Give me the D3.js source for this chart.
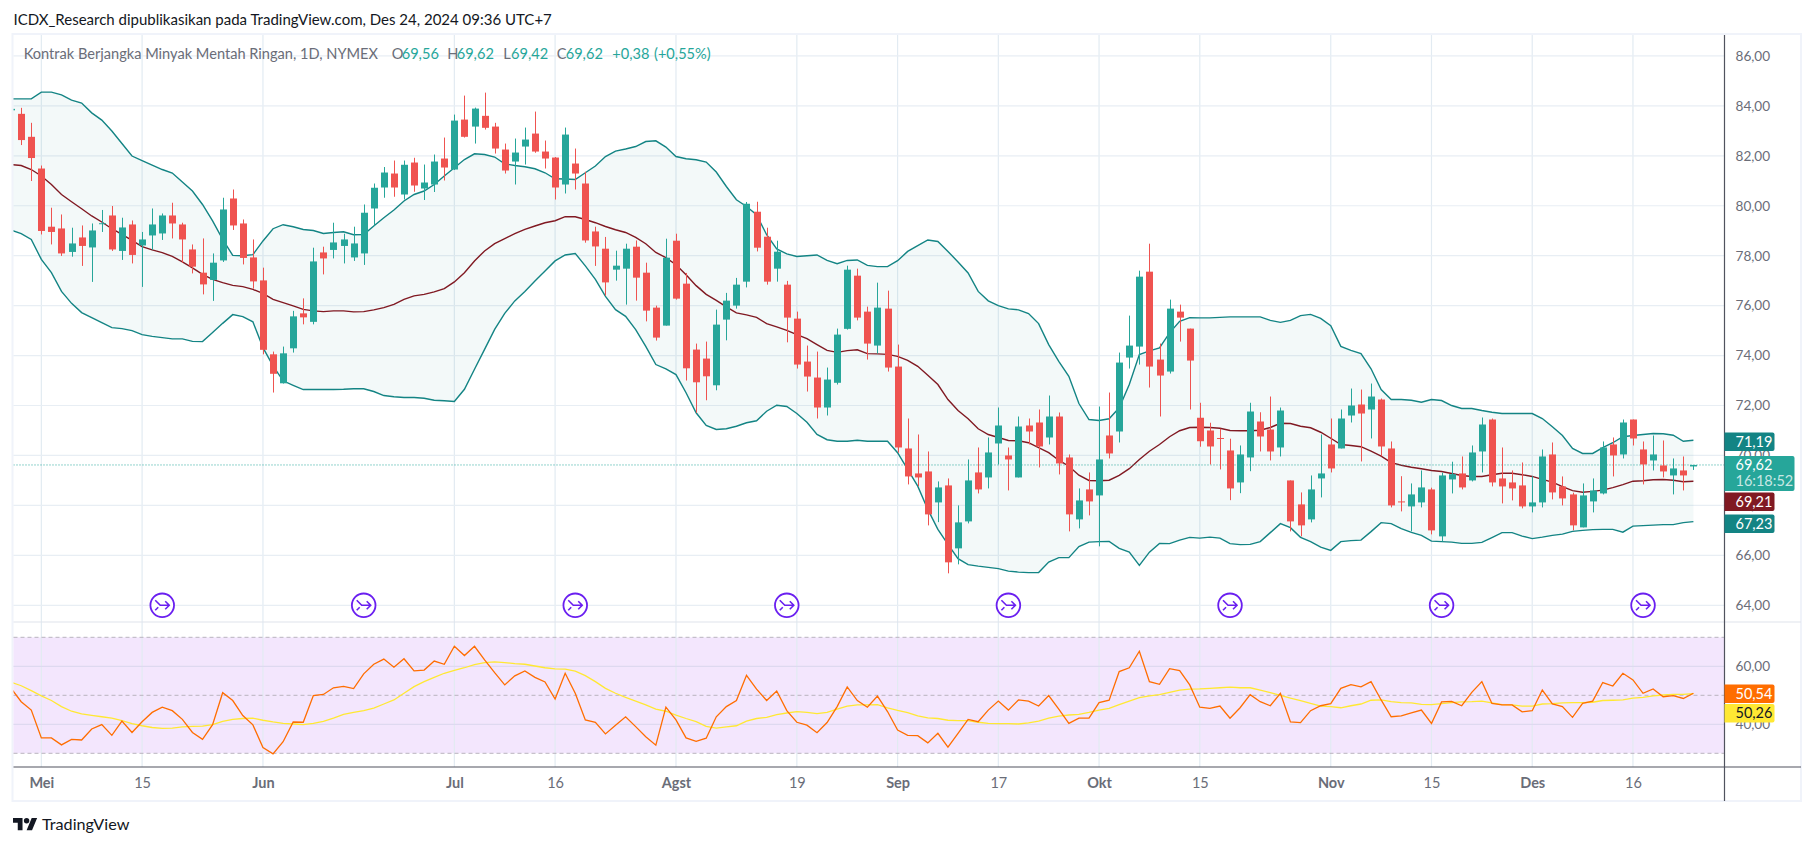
<!DOCTYPE html>
<html>
<head>
<meta charset="utf-8">
<script src="https://cdn.jsdelivr.net/npm/d3@7"></script>
<style>
  html, body { margin: 0; padding: 0; background: #fff; }
  svg { display: block; }
  text { font-family: "Lato", "Noto Sans", sans-serif; }
</style>
</head>
<body>
<svg id="chart" width="1814" height="846"></svg>
<script>
// daily candles, first entry is 26 Apr (only a sliver of it shows at the left edge)
const opens = [83.82,
  83.68,82.76,81.49,79.16,79.09,78.15,78.73,78.33,79.27,79.61,
  78.19,79.25,78.41,78.81,78.89,79.61,79.25,78.25,77.32,77.03,
  77.81,80.29,79.29,77.93,77.01,74.05,72.89,74.29,75.69,75.35,
  78.13,78.23,78.39,77.93,78.09,79.89,80.73,81.29,80.45,81.73,
  80.69,80.85,81.89,81.45,83.45,83.17,83.6,83.17,82.25,81.77,
  82.37,82.89,82.17,81.93,80.85,81.69,80.89,78.97,78.28,77.44,
  77.48,78.36,77.32,75.92,75.2,78.6,76.88,74.24,73.88,72.81,
  75.44,76.0,76.96,79.76,78.76,77.48,76.84,75.48,73.76,73.12,
  71.92,72.91,75.07,77.2,75.76,74.4,75.88,73.56,70.28,69.28,
  69.36,68.12,68.8,66.28,67.36,69.32,69.12,70.48,70.0,69.12,
  71.2,71.32,70.72,71.56,69.92,67.44,68.64,68.4,70.8,70.96,
  73.92,74.36,77.36,73.84,73.36,75.76,75.08,71.51,71.0,70.7,
  70.2,68.92,69.92,71.36,71.04,70.32,69.0,68.04,67.44,69.08,
  70.44,70.28,71.6,72.04,71.84,72.24,70.28,68.16,67.96,68.12,
  68.64,66.76,69.04,69.28,69.0,70.16,71.44,69.08,68.92,68.8,
  67.96,68.12,70.04,68.76,68.44,67.12,68.16,68.48,70.44,70.04,
  71.44,70.24,69.8,69.6,69.2,69.4,69.56];
const highs = [83.9,
  83.92,83.32,81.61,79.92,79.65,79.12,79.21,79.29,79.83,79.99,
  79.52,79.41,78.95,79.89,79.69,80.12,79.32,78.45,78.69,78.09,
  80.32,80.65,79.45,78.65,77.52,74.16,74.36,75.79,76.29,78.32,
  78.36,79.32,78.88,79.16,80.05,80.89,81.55,81.81,81.81,81.92,
  81.65,82.05,82.73,83.65,84.41,83.93,84.53,83.32,82.49,82.69,
  83.13,83.77,82.61,81.95,83.13,82.29,81.36,79.16,78.75,78.2,
  78.48,78.61,77.72,76.0,78.68,78.88,77.31,74.48,74.56,75.84,
  76.51,77.11,80.15,80.16,79.12,78.6,76.99,75.76,74.4,74.16,
  73.52,75.08,77.6,77.48,75.96,76.92,76.6,74.44,71.48,70.84,
  70.16,68.96,69.08,68.0,69.84,70.32,70.72,71.92,70.32,71.56,
  71.48,71.84,72.4,71.72,70.04,68.68,69.32,71.96,72.52,74.12,
  75.6,77.4,78.48,74.48,76.24,76.04,75.08,72.11,71.31,71.07,
  70.67,70.4,72.11,71.73,72.36,71.92,69.0,68.52,69.2,70.84,
  71.48,71.84,72.68,72.64,72.88,72.28,70.56,69.17,68.88,69.4,
  68.71,69.31,69.75,69.96,70.4,71.52,71.48,70.32,69.4,69.72,
  69.17,70.24,70.52,69.16,68.51,68.88,69.08,70.56,70.72,71.44,
  71.44,70.56,70.8,70.6,69.88,69.96,69.62];
const lows = [83.8,
  82.43,80.99,78.85,78.45,77.99,77.96,77.59,76.95,78.95,78.19,
  77.83,77.69,76.75,78.23,78.63,78.69,77.72,77.29,76.45,76.19,
  77.75,79.03,77.65,76.68,74.05,72.52,72.88,74.12,75.25,75.25,
  77.25,77.89,77.69,77.79,77.63,79.21,80.32,80.36,80.25,80.56,
  80.23,80.55,81.01,81.43,82.73,82.49,83.05,82.09,81.29,80.85,
  81.65,82.12,81.49,80.25,80.49,80.65,78.52,77.59,76.4,77.0,
  76.04,76.2,75.37,74.6,75.2,76.24,73.0,71.71,72.21,72.61,
  74.61,75.88,76.73,78.17,76.84,76.96,74.53,73.48,72.56,71.48,
  71.6,72.84,75.04,75.41,73.84,74.08,73.36,70.11,68.84,68.77,
  67.2,67.33,65.28,65.64,67.28,68.48,68.68,69.64,68.6,69.12,
  70.44,69.52,70.44,69.24,66.96,67.08,67.6,66.36,69.88,70.52,
  73.48,73.64,72.72,71.56,73.28,74.56,71.84,70.35,69.64,69.44,
  68.21,68.49,69.37,70.16,69.8,69.96,66.96,66.76,67.32,68.32,
  69.32,70.28,71.32,69.76,70.68,69.97,67.92,67.76,66.96,67.92,
  66.84,66.56,68.48,68.64,68.96,69.32,68.76,68.08,68.2,67.88,
  67.72,67.92,68.24,68.0,67.0,67.12,67.72,68.44,69.16,69.88,
  70.4,68.84,69.4,69.12,68.44,68.6,69.42];
const closes = [83.88,
  82.63,81.91,78.99,78.95,78.09,78.49,78.39,79.01,79.3,78.25,
  79.13,78.03,78.65,79.25,79.61,79.29,78.65,77.56,76.85,77.72,
  79.85,79.21,77.91,76.97,74.23,73.27,74.09,75.57,75.53,77.77,
  77.89,78.53,78.65,78.49,79.72,80.72,81.33,80.73,81.64,80.81,
  80.93,81.77,81.53,83.41,82.76,83.89,83.12,82.29,81.41,82.13,
  82.65,82.17,81.89,80.73,82.85,81.29,78.61,78.37,76.93,77.6,
  78.28,77.12,75.8,74.72,77.92,76.28,73.49,72.93,73.17,75.24,
  76.2,76.84,80.08,78.32,76.96,78.16,75.52,73.64,73.16,71.92,
  73.04,74.84,77.44,75.52,74.48,75.92,73.52,70.32,69.16,69.12,
  67.64,68.72,65.72,67.32,69.0,68.64,70.12,71.2,69.84,71.16,
  70.96,70.36,71.56,69.68,67.64,68.2,68.16,69.84,70.08,73.72,
  74.4,77.16,73.56,73.2,75.88,75.52,73.8,70.57,70.36,70.67,
  68.68,70.04,71.76,70.76,70.16,71.8,67.36,67.2,68.64,69.28,
  69.48,71.48,72.0,71.68,72.36,70.36,68.0,68.13,68.44,68.72,
  67.0,69.2,69.25,68.72,70.12,71.24,68.92,68.76,68.68,67.96,
  68.12,69.96,68.52,68.28,67.2,68.4,68.6,70.32,70.0,71.32,
  70.68,69.64,70.04,69.36,69.48,69.2,69.62];

// bollinger bands
const bbUpper = [84.28,
  84.28,84.28,84.55,84.55,84.44,84.23,84.11,83.72,83.43,82.99,
  82.49,81.99,81.81,81.63,81.45,81.31,80.95,80.59,80.05,79.39,
  78.65,78.01,78.0,78.04,78.59,79.08,79.24,79.16,79.05,79.01,
  78.89,78.93,78.96,78.84,78.85,79.19,79.52,79.83,80.19,80.45,
  80.59,80.85,81.19,81.52,81.85,82.08,82.05,81.95,81.68,81.61,
  81.56,81.48,81.32,81.08,81.07,81.05,81.32,81.59,81.97,82.19,
  82.27,82.37,82.57,82.6,82.35,81.97,81.88,81.84,81.75,81.35,
  80.77,80.24,79.97,79.64,78.84,78.27,78.07,77.97,78.0,78.03,
  77.81,77.68,77.81,77.83,77.61,77.56,77.56,77.8,78.17,78.4,
  78.63,78.57,78.17,77.75,77.31,76.57,76.19,76.0,75.87,75.83,
  75.68,75.28,74.44,73.77,73.17,72.08,71.44,71.4,71.47,71.91,
  72.84,74.04,74.19,74.31,74.91,75.37,75.52,75.51,75.51,75.53,
  75.55,75.55,75.55,75.55,75.41,75.33,75.41,75.6,75.65,75.49,
  75.2,74.37,74.21,74.08,73.47,72.64,72.24,72.24,72.21,72.13,
  72.24,72.2,72.0,71.88,71.88,71.8,71.73,71.68,71.68,71.68,
  71.68,71.48,71.15,70.8,70.28,70.08,70.08,70.31,70.51,70.75,
  70.8,70.84,70.88,70.87,70.81,70.57,70.61];
const bbBasis = [81.65,
  81.61,81.45,81.19,80.85,80.45,80.16,79.88,79.59,79.35,79.08,
  78.85,78.61,78.36,78.23,78.12,77.97,77.75,77.51,77.25,77.05,
  76.92,76.81,76.76,76.65,76.49,76.25,76.12,75.99,75.85,75.79,
  75.76,75.79,75.79,75.75,75.76,75.83,75.92,76.05,76.25,76.39,
  76.45,76.55,76.68,76.95,77.32,77.79,78.19,78.48,78.68,78.88,
  79.05,79.19,79.32,79.4,79.56,79.56,79.45,79.32,79.17,79.04,
  78.93,78.73,78.48,78.13,77.92,77.64,77.24,76.8,76.45,76.21,
  75.95,75.71,75.63,75.53,75.28,75.15,75.01,74.84,74.68,74.44,
  74.21,74.13,74.2,74.23,74.08,74.07,74.05,73.97,73.81,73.57,
  73.21,72.84,72.24,71.8,71.47,71.07,70.84,70.72,70.6,70.59,
  70.51,70.31,70.11,69.81,69.57,69.21,69.0,68.99,69.01,69.2,
  69.47,69.84,70.17,70.44,70.75,70.99,71.12,71.13,71.12,71.09,
  71.0,70.99,70.99,71.01,71.12,71.29,71.28,71.17,71.11,70.93,
  70.69,70.44,70.4,70.35,70.17,69.97,69.71,69.61,69.53,69.47,
  69.4,69.36,69.28,69.2,69.16,69.16,69.23,69.29,69.29,69.23,
  69.16,69.04,68.93,68.75,68.59,68.53,68.56,68.61,68.71,68.83,
  68.97,68.99,69.03,69.04,69.01,68.95,68.97];
const bbLower = [79.03,
  78.88,78.65,77.85,77.32,76.57,76.09,75.72,75.52,75.32,75.12,
  75.08,75.0,74.84,74.77,74.72,74.67,74.67,74.57,74.56,74.92,
  75.29,75.64,75.56,75.35,74.32,73.59,72.99,72.81,72.64,72.64,
  72.64,72.64,72.65,72.67,72.67,72.56,72.4,72.35,72.32,72.32,
  72.29,72.21,72.19,72.16,72.65,73.45,74.25,75.05,75.69,76.19,
  76.57,76.99,77.39,77.79,78.03,78.09,77.59,77.05,76.37,75.84,
  75.57,75.04,74.37,73.64,73.47,73.24,72.51,71.71,71.2,71.04,
  71.07,71.17,71.31,71.39,71.77,72.01,71.96,71.68,71.33,70.84,
  70.63,70.57,70.57,70.61,70.57,70.57,70.57,70.11,69.44,68.77,
  67.84,67.04,66.44,65.87,65.63,65.57,65.52,65.47,65.37,65.33,
  65.31,65.31,65.73,65.91,65.91,66.35,66.53,66.55,66.56,66.28,
  66.13,65.6,66.13,66.48,66.47,66.61,66.72,66.69,66.73,66.69,
  66.47,66.43,66.44,66.55,66.91,67.27,67.11,66.72,66.55,66.33,
  66.2,66.55,66.59,66.61,66.95,67.31,67.27,67.07,66.92,66.8,
  66.57,66.55,66.53,66.48,66.48,66.52,66.71,66.91,66.91,66.77,
  66.67,66.73,66.8,66.85,66.96,67.0,67.03,67.04,67.04,66.93,
  67.17,67.19,67.21,67.23,67.23,67.31,67.35];

// RSI and its moving average
const rsiValues = [52.4,
  47.8,44.9,35.3,35.3,32.9,34.8,34.6,38.4,39.9,36.2,
  41.1,37.2,40.9,44.1,45.9,44.7,41.7,37.2,34.8,39.9,
  50.9,48.2,43.0,39.8,32.0,29.8,34.0,40.8,40.7,49.9,
  50.3,52.6,53.1,52.3,57.4,60.7,62.5,59.7,62.6,58.4,
  58.7,61.8,60.7,66.9,63.7,66.9,62.2,57.8,53.6,56.7,
  58.4,56.2,54.6,48.7,57.6,50.7,41.5,40.7,36.7,39.7,
  42.6,39.2,35.7,32.8,45.9,41.5,35.3,34.1,35.2,42.6,
  46.1,48.2,56.9,52.1,48.2,51.5,44.7,40.7,39.7,37.1,
  40.6,46.1,52.9,48.2,45.9,49.7,44.4,38.0,36.2,36.1,
  33.6,36.9,32.1,36.9,41.7,40.9,44.9,48.0,44.9,48.4,
  48.0,46.3,49.9,45.2,40.3,42.1,42.1,47.5,48.3,58.2,
  59.5,65.2,54.7,53.8,59.2,58.5,53.6,45.9,45.5,46.3,
  42.1,45.7,50.2,47.8,46.4,50.7,40.8,40.6,44.7,46.4,
  47.1,52.4,53.7,52.9,54.7,48.4,42.6,42.9,43.9,44.9,
  40.3,47.7,47.9,46.4,51.0,54.7,47.2,46.7,46.7,44.3,
  44.7,51.8,47.0,46.1,42.4,47.2,48.0,54.4,53.2,57.6,
  55.3,50.7,52.2,49.5,49.9,48.9,50.7];
const rsiMa = [54.5,
  53.3,51.6,49.8,48.2,46.1,44.5,43.6,43.1,42.6,42.1,
  41.3,40.2,39.5,38.9,38.6,38.7,39.1,39.3,39.4,39.9,
  41.0,41.7,42.0,42.1,41.4,40.8,40.3,40.1,39.9,40.3,
  41.0,42.1,43.4,44.1,44.7,45.6,47.0,48.4,50.7,53.0,
  54.7,56.2,57.6,58.6,59.5,60.6,61.3,61.5,61.3,60.9,
  60.7,60.1,59.5,59.1,59.0,58.3,56.8,54.7,52.4,50.7,
  49.3,48.0,46.7,45.2,44.5,43.2,42.0,40.9,39.3,38.7,
  39.1,39.5,41.1,42.0,42.4,43.3,43.9,44.4,44.1,43.7,
  44.1,45.2,46.3,46.7,46.7,46.8,45.7,44.8,44.0,42.9,
  42.2,42.0,41.4,41.3,41.3,40.7,40.3,40.2,40.2,40.1,
  40.5,41.1,42.1,42.8,43.2,43.4,44.1,44.9,45.5,46.8,
  48.0,49.2,49.8,50.2,51.0,51.8,52.1,52.2,52.4,52.6,
  52.8,52.6,52.6,51.8,50.9,50.0,49.0,48.2,47.2,46.3,
  46.1,45.7,46.4,47.0,48.3,48.4,47.8,47.5,47.4,46.9,
  46.8,47.1,47.5,47.7,47.8,48.0,47.4,46.8,46.7,46.3,
  46.3,47.0,47.1,47.4,47.5,47.5,47.6,48.2,48.3,48.4,
  49.0,49.3,49.8,50.1,50.3,50.3,50.6];

// bar numbers (same numbering as the arrays above) of time labels and rollover marks
const timeTickBars = [3, 13, 25, 44, 54, 66, 78, 88, 98, 108, 118, 131, 141, 151, 161];
const timeTickLabels = ["Mei", "15", "Jun", "Jul", "16", "Agst", "19", "Sep", "17", "Okt", "15", "Nov", "15", "Des", "16"];
const monthLabels = ["Mei", "Jun", "Jul", "Agst", "Sep", "Okt", "Nov", "Des"];
const rolloverBars = [15, 35, 56, 77, 99, 121, 142, 162];
const priceTicks = [64, 66, 68, 70, 72, 74, 76, 78, 80, 82, 84, 86];
const rsiTicks = [40, 60];
const rsiBands = [70, 50, 30];

const title = "ICDX_Research dipublikasikan pada TradingView.com, Des 24, 2024 09:36 UTC+7";
const symbolName = "Kontrak Berjangka Minyak Mentah Ringan, 1D, NYMEX";

const comma = v => v.toFixed(2).replace(".", ",");

const svg = d3.select("#chart");
const margin = { left: 13.5, right: 1724.5, top: 35, sep: 622, axis: 767, bottom: 801, outer: 1801 };

const x = d3.scaleLinear().domain([1, 167]).range([21.2, 1693.4]);
const y = d3.scaleLinear().domain([64, 86]).range([605.3, 55.9]);
const yRsi = d3.scaleLinear().domain([30, 70]).range([753.3, 637.3]);

const bars = d3.range(opens.length);

const colors = {
  up: "#26a69a", down: "#ef5350", band: "#138484", basis: "#801922",
  grid: "#e8eef4", rsi: "#ff6d00", ma: "#ffe833", rsiFill: "#f3e6fd",
  axis: "#50535e", label: "#6a6d78", frame: "#f0f3fa", roll: "#6a1ff0"
};

const defs = svg.append("defs");
defs.append("clipPath").attr("id", "plotClip").append("rect")
  .attr("x", margin.left).attr("y", margin.top)
  .attr("width", margin.right - margin.left).attr("height", margin.axis - margin.top);

// outer frame
svg.append("rect")
  .attr("x", 12.5).attr("y", 34).attr("width", margin.outer - 12.5).attr("height", margin.bottom - 34)
  .attr("fill", "#fff").attr("stroke", colors.frame).attr("stroke-width", 2);

// page title
svg.append("text").attr("x", 13.5).attr("y", 25).attr("font-size", 15).attr("fill", "#131722").text(title);

// rsi pane background goes under the grid lines
svg.append("rect")
  .attr("x", margin.left).attr("width", margin.right - margin.left)
  .attr("y", yRsi(70)).attr("height", yRsi(30) - yRsi(70))
  .attr("fill", colors.rsiFill);

// grid
const grid = svg.append("g").attr("fill", "none").attr("stroke-width", 1.2);
grid.selectAll("line.v").data(timeTickBars).enter().append("line")
  .attr("x1", d => x(d)).attr("x2", d => x(d))
  .attr("y1", margin.top).attr("y2", margin.axis)
  .attr("stroke", "#e2ebf2");
grid.selectAll("line.h").data(priceTicks).enter().append("line")
  .attr("x1", margin.left).attr("x2", margin.right)
  .attr("y1", d => y(d)).attr("y2", d => y(d))
  .attr("stroke", colors.grid);
grid.selectAll("line.r").data(rsiTicks).enter().append("line")
  .attr("x1", margin.left).attr("x2", margin.right)
  .attr("y1", d => yRsi(d)).attr("y2", d => yRsi(d))
  .attr("stroke", "#ded9f0");

// rsi levels
svg.append("g").selectAll("line").data(rsiBands).enter().append("line")
  .attr("x1", margin.left).attr("x2", margin.right)
  .attr("y1", d => yRsi(d)).attr("y2", d => yRsi(d))
  .attr("stroke", "#b9b3bf").attr("stroke-width", 1).attr("stroke-dasharray", "4 3");

const plot = svg.append("g").attr("clip-path", "url(#plotClip)");

// bollinger band
const bandArea = d3.area().x(d => x(d)).y0(d => y(bbLower[d])).y1(d => y(bbUpper[d]));
plot.append("path").attr("d", bandArea(bars)).attr("fill", "#138484").attr("fill-opacity", 0.05);

const lineOf = (vals, scale) => d3.line().x(d => x(d)).y(d => scale(vals[d]))(bars);
[[bbUpper, colors.band], [bbLower, colors.band], [bbBasis, colors.basis]].forEach(([vals, c]) => {
  plot.append("path").attr("d", lineOf(vals, y)).attr("fill", "none").attr("stroke", c).attr("stroke-width", 1.4);
});

// last price line
plot.append("line")
  .attr("x1", margin.left).attr("x2", margin.right)
  .attr("y1", y(closes[closes.length - 1])).attr("y2", y(closes[closes.length - 1]))
  .attr("stroke", colors.up).attr("stroke-width", 1).attr("stroke-dasharray", "1 2");

// candles
const candleColor = d => closes[d] >= opens[d] ? colors.up : colors.down;
const candles = plot.append("g").selectAll("g").data(bars).enter().append("g");
candles.append("line")
  .attr("x1", d => Math.round(x(d)) + 0.5).attr("x2", d => Math.round(x(d)) + 0.5)
  .attr("y1", d => y(highs[d])).attr("y2", d => y(lows[d]))
  .attr("stroke", candleColor).attr("stroke-width", 1);
candles.append("rect")
  .attr("x", d => Math.round(x(d)) - 3)
  .attr("width", 7)
  .attr("y", d => y(Math.max(opens[d], closes[d])))
  .attr("height", d => Math.max(1, Math.abs(y(opens[d]) - y(closes[d]))))
  .attr("fill", candleColor);

// rsi lines
plot.append("path").attr("d", lineOf(rsiMa, yRsi)).attr("fill", "none").attr("stroke", colors.ma).attr("stroke-width", 1.3);
plot.append("path").attr("d", lineOf(rsiValues, yRsi)).attr("fill", "none").attr("stroke", colors.rsi).attr("stroke-width", 1.3);

// rollover marks
const marks = svg.append("g").selectAll("g").data(rolloverBars).enter().append("g")
  .attr("transform", d => `translate(${x(d)},${y(64)})`)
  .attr("fill", "none").attr("stroke", colors.roll);
marks.append("circle").attr("r", 11.8).attr("fill", "#fff").attr("stroke-width", 1.8);
marks.append("path").attr("d", "M-7,-5L-2,0L7,0M3,-4L7,0L3,4M-7,5L-4,2").attr("stroke-width", 1.6);

// pane borders and axis lines
svg.append("line").attr("x1", margin.left).attr("x2", margin.outer)
  .attr("y1", margin.sep).attr("y2", margin.sep).attr("stroke", "#e0e3eb").attr("stroke-width", 1.2);
svg.append("line").attr("x1", margin.left).attr("x2", margin.outer)
  .attr("y1", margin.axis).attr("y2", margin.axis).attr("stroke", colors.axis).attr("stroke-width", 1.2);
svg.append("line").attr("x1", margin.right).attr("x2", margin.right)
  .attr("y1", margin.top).attr("y2", margin.bottom).attr("stroke", colors.axis).attr("stroke-width", 1.2);

// price and rsi axes
const styleAxis = size => g => {
  g.select(".domain").remove();
  g.selectAll(".tick line").remove();
  g.selectAll(".tick text").attr("fill", colors.label).attr("font-size", size).attr("font-family", "Lato, 'Noto Sans', sans-serif");
};
svg.append("g").attr("transform", `translate(${margin.right},0)`)
  .call(d3.axisRight(y).tickValues(priceTicks).tickFormat(comma).tickSize(0).tickPadding(11))
  .call(styleAxis(13.6));
svg.append("g").attr("transform", `translate(${margin.right},0)`)
  .call(d3.axisRight(yRsi).tickValues(rsiTicks).tickFormat(comma).tickSize(0).tickPadding(11))
  .call(styleAxis(13.6));

// time axis
const timeAxis = svg.append("g").attr("transform", `translate(0,${margin.axis})`)
  .call(d3.axisBottom(x).tickValues(timeTickBars).tickFormat((d, i) => timeTickLabels[i]).tickSize(0).tickPadding(11))
  .call(styleAxis(14.5));
timeAxis.selectAll(".tick text")
  .attr("font-weight", function () { return monthLabels.includes(this.textContent) ? 700 : 400; });

// value labels on the price scale
const priceLabels = [
  { text: comma(71.19), top: 432.5, fill: colors.band },
  { text: comma(69.21), top: 492.5, fill: colors.basis },
  { text: comma(67.23), top: 514.5, fill: colors.band },
  { text: comma(50.54), top: 684.5, fill: colors.rsi },
  { text: comma(50.26), top: 704, fill: colors.ma, ink: "#131722" }
];
const tags = svg.append("g").selectAll("g").data(priceLabels).enter().append("g");
tags.append("path")
  .attr("d", d => `M${margin.right},${d.top}h48a2,2 0 0 1 2,2v14.5a2,2 0 0 1 -2,2h-48z`)
  .attr("fill", d => d.fill);
tags.append("text")
  .attr("x", margin.right + 11).attr("y", d => d.top + 14)
  .attr("font-size", 14.5).attr("fill", d => d.ink || "#fff").text(d => d.text);

// last price tag with countdown
svg.append("path")
  .attr("d", `M${margin.right},456h68a2,2 0 0 1 2,2v31a2,2 0 0 1 -2,2h-68z`)
  .attr("fill", colors.up);
svg.append("text").attr("x", margin.right + 11).attr("y", 469.5).attr("font-size", 14.5).attr("fill", "#fff")
  .text(comma(closes[closes.length - 1]));
svg.append("text").attr("x", margin.right + 11).attr("y", 486).attr("font-size", 14.5).attr("fill", "#fff").attr("fill-opacity", 0.75)
  .text("16:18:52");

// symbol legend
const last = closes.length - 1;
const legendParts = [
  { x: 23.7, t: symbolName, c: colors.label },
  { x: 391.7, t: "O", c: colors.label }, { x: 401.7, t: comma(opens[last]), c: colors.up },
  { x: 447.3, t: "H", c: colors.label }, { x: 456.7, t: comma(highs[last]), c: colors.up },
  { x: 503.3, t: "L", c: colors.label }, { x: 511, t: comma(lows[last]), c: colors.up },
  { x: 556.7, t: "C", c: colors.label }, { x: 565.7, t: comma(closes[last]), c: colors.up },
  { x: 612.3, t: "+0,38", c: colors.up }, { x: 654, t: "(+0,55%)", c: colors.up }
];
svg.append("g").selectAll("text").data(legendParts).enter().append("text")
  .attr("x", d => d.x).attr("y", 58.5).attr("font-size", 14.6).attr("fill", d => d.c).text(d => d.t);

// footer logo
const logo = svg.append("g").attr("transform", "translate(13,815.3) scale(0.68)").attr("fill", "#131722");
logo.append("path").attr("d", "M14 22H7V11H0V4h14v18zM28 22h-8l7.5-18h8L28 22z");
logo.append("circle").attr("cx", 20).attr("cy", 8).attr("r", 4);
svg.append("text").attr("x", 42).attr("y", 829.5).attr("font-size", 16.2).attr("fill", "#131722").text("TradingView");
</script>
</body>
</html>
